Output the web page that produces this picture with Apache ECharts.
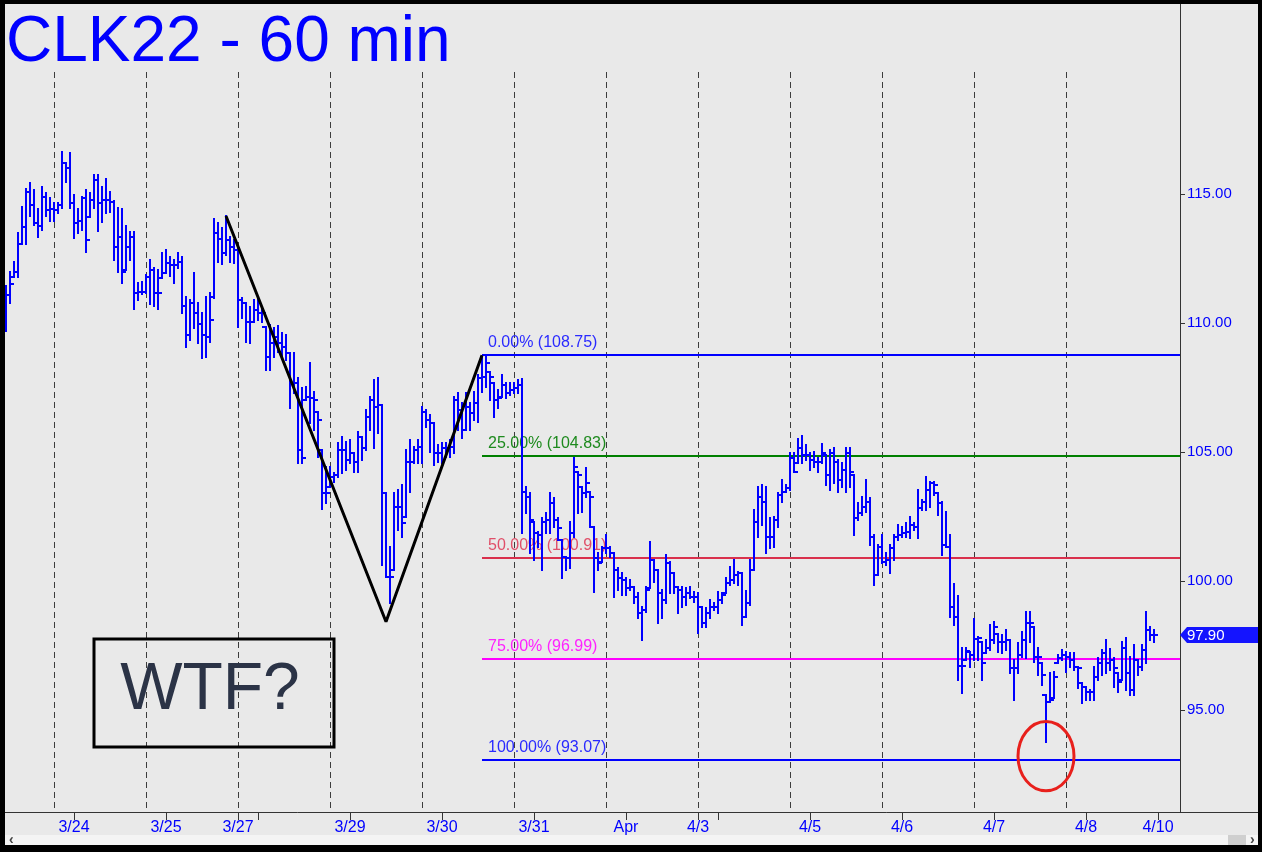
<!DOCTYPE html>
<html>
<head>
<meta charset="utf-8">
<script src="https://cdn.jsdelivr.net/npm/echarts@6/dist/echarts.min.js"></script>
<style>
  html, body { margin: 0; padding: 0; background: #e9e9e9; }
  #wrap { position: relative; width: 1262px; height: 852px; }
  #chart { width: 1262px; height: 852px; }
  #frame { position: absolute; left: 0; top: 0; width: 1262px; height: 852px; box-sizing: border-box;
           border-style: solid; border-color: #000; border-width: 4px 4px 7px 5px; pointer-events: none; }
</style>
</head>
<body>
<div id="wrap"><div id="chart"></div><div id="frame"></div></div>
<script>
// ---- DATA: hourly OHLC bars [open, high, low, close], one array per session ----
const s0 = [
[110.20,111.43,109.70,111.07],[111.07,111.99,110.79,111.50],[111.79,112.37,111.79,111.99],[111.99,113.47,111.79,113.08],
[113.08,114.51,113.06,113.71],[113.71,115.18,113.06,115.09],[115.09,115.41,114.14,114.57],[114.57,115.15,113.80,113.86],
[113.86,114.40,113.34,113.76],[113.76,115.28,113.60,114.89],[114.89,115.02,114.14,114.38],[114.38,114.83,113.96,114.40]];
const s1 = [
[114.40,114.64,113.96,114.38],[114.38,114.64,114.27,114.57],[114.57,116.64,114.44,116.19],[116.19,116.19,115.48,115.99],
[115.99,116.57,114.44,114.64],[114.64,114.96,113.28,113.86],[113.86,114.40,113.47,113.96],[113.96,114.89,113.60,114.83],
[114.83,115.15,112.76,113.21],[114.12,115.02,114.12,114.77],[114.77,115.73,114.44,115.54],[115.54,115.73,113.58,114.64],
[114.64,115.28,113.92,114.77],[114.77,115.57,114.25,114.77],[114.77,115.09,114.31,114.70],[114.70,114.73,112.46,112.96],
[112.96,114.44,111.99,113.34],[113.34,114.40,111.56,111.99],[112.05,113.76,112.05,112.96],[112.96,113.54,112.46,113.34],
[113.34,113.54,110.53,111.15],[111.15,111.56,110.91,111.21],[111.21,111.60,111.12,111.21]];
const s2 = [
[111.21,111.86,111.15,111.79],[111.79,112.46,110.72,112.05],[112.05,112.12,110.66,111.15],[111.15,112.05,110.53,111.15],
[111.73,112.70,111.73,111.95],[111.95,112.83,111.95,112.31],[112.31,112.57,111.82,112.25],[112.25,112.44,111.56,112.25],
[112.25,112.70,112.12,112.37],[112.37,112.57,110.37,110.66],[110.66,111.02,109.08,109.53],[109.53,110.89,109.34,110.76],
[110.76,111.92,109.79,110.37],[110.37,110.76,109.21,109.98],[109.98,110.37,108.63,109.53],[109.53,111.02,108.69,109.47],
[109.47,111.15,109.27,110.11],[111.02,114.05,110.95,113.50],[113.50,113.86,112.37,113.24],[113.24,113.67,112.28,112.70],
[112.70,114.14,112.63,113.21],[113.21,113.34,112.37,112.96],[112.96,113.21,112.31,112.83]];
const s3 = [
[112.83,112.96,109.86,110.91],[110.91,110.95,110.18,110.76],[110.76,110.79,109.27,110.05],[110.05,110.63,109.24,110.05],
[110.05,110.91,110.05,110.50],[110.50,110.89,110.11,110.37],[110.37,110.57,110.05,110.37],[109.86,109.86,108.18,108.70],
[108.70,109.92,108.18,109.21],[109.21,109.79,108.69,109.47],[109.47,109.88,108.89,109.21],[109.21,109.60,108.63,109.08],
[109.08,109.53,108.56,108.82],[108.82,108.82,106.69,107.66],[107.66,108.85,107.27,107.66],[107.66,107.85,104.56,105.08],
[105.08,107.47,104.56,104.75],[107.02,107.53,107.02,107.14],[107.14,108.46,106.11,107.08],[107.08,107.34,105.85,107.02],
[106.56,106.56,104.82,106.24],[105.08,105.08,102.78,103.40],[103.40,104.43,103.01,103.40]];
const s4 = [
[103.66,104.43,103.66,104.04],[104.04,104.17,103.85,104.11],[104.11,105.34,104.04,105.08],[105.08,105.59,104.17,105.08],
[105.08,105.40,104.30,104.69],[104.69,105.46,104.56,104.95],[104.95,104.95,104.24,104.63],[104.63,105.79,104.24,105.59],
[105.59,105.59,104.69,105.14],[105.14,106.63,105.08,106.37],[106.37,107.14,105.85,107.02],[107.02,107.79,105.14,106.76],
[106.76,107.85,105.72,106.82],[106.82,106.82,100.62,103.40],[103.40,103.40,100.17,100.17],[100.17,101.33,99.13,100.17],
[100.43,103.40,100.43,102.88],[102.88,103.53,101.98,102.88],[102.88,103.72,101.72,102.24],[102.49,105.08,102.49,104.63],
[104.63,105.46,103.46,104.63],[104.63,105.21,104.56,105.08],[105.08,105.46,104.56,105.21]];
const s5 = [
[105.21,106.76,104.56,106.56],[106.56,106.63,105.98,106.24],[106.24,106.43,105.01,106.11],[106.11,106.11,104.50,104.95],
[104.95,105.27,104.63,104.95],[104.95,105.34,104.56,105.14],[105.14,105.34,104.82,105.14],[105.14,105.46,104.82,105.21],
[105.21,107.14,104.95,107.02],[107.02,107.27,105.85,106.63],[106.63,106.89,105.53,105.85],[105.85,107.27,105.85,106.76],
[106.76,106.89,105.85,106.50],[106.50,107.34,106.24,106.89],[106.89,107.98,106.17,107.85],[107.85,108.66,107.34,107.92],
[107.92,108.72,107.53,108.44],[108.11,108.11,107.02,107.92],[107.66,107.66,106.37,107.02],[107.02,107.40,106.69,107.10],
[107.14,107.99,107.14,107.60],[107.60,107.66,107.08,107.30],[107.30,107.66,107.21,107.40]];
const s6 = [
[107.40,107.66,107.27,107.50],[107.50,107.79,107.27,107.60],[107.60,107.82,101.85,103.46],[103.46,103.66,102.62,103.27],
[103.27,103.40,101.07,102.36],[102.30,102.30,100.81,101.85],[101.85,101.91,101.33,101.78],[101.78,102.43,100.43,102.30],
[102.30,102.62,101.85,102.36],[102.36,103.40,101.85,103.01],[103.01,103.20,102.11,102.36],[102.36,102.43,101.59,102.04],
[101.59,101.59,100.10,100.94],[100.94,100.94,100.43,100.88],[100.88,102.30,100.49,101.85],[101.85,104.75,101.72,104.43],
[104.24,104.24,102.62,104.11],[103.66,103.66,102.69,103.40],[103.40,104.37,103.27,103.79],[103.46,103.46,102.11,103.27],
[102.11,102.11,99.59,100.88],[100.88,101.07,100.43,100.68],[100.75,101.33,100.75,101.27]];
const s7 = [
[101.27,101.78,101.07,101.27],[101.27,101.33,100.94,101.07],[101.07,101.07,99.39,100.43],[100.43,100.49,99.65,100.10],
[100.10,100.30,99.46,100.04],[100.04,100.10,99.46,99.72],[99.72,100.04,99.65,99.78],[99.78,99.78,99.13,99.39],
[99.39,99.52,98.55,98.75],[98.75,99.00,97.71,98.88],[98.88,99.78,98.81,99.65],[99.72,101.52,99.72,100.81],
[100.81,100.81,99.97,100.43],[100.43,100.43,98.36,99.52],[99.52,99.65,98.55,99.26],[99.26,101.01,99.13,100.68],
[100.68,100.75,99.52,100.30],[100.30,100.30,99.52,99.78],[99.78,99.78,98.75,99.65],[99.65,99.78,99.00,99.39],
[99.39,99.72,99.07,99.52],[99.52,99.78,99.33,99.39],[99.39,99.59,99.20,99.39]];
const s8 = [
[99.39,99.52,97.97,99.00],[99.00,99.00,98.23,98.36],[98.36,98.94,98.23,98.75],[98.75,99.26,98.55,99.00],
[99.00,99.13,98.88,99.00],[99.00,99.59,98.75,99.26],[99.26,99.52,99.13,99.46],[99.52,100.10,99.52,99.91],
[99.91,100.56,99.84,100.04],[100.04,100.81,99.91,100.23],[100.23,100.36,99.84,100.30],[100.30,100.30,98.29,98.62],
[98.62,99.60,98.62,99.13],[99.13,100.81,99.07,100.43],[100.43,102.75,100.43,102.30],[102.30,103.66,101.72,103.27],
[103.27,103.72,102.17,103.07],[103.07,103.66,101.07,101.72],[101.72,102.43,101.27,101.72],[101.72,102.49,101.33,102.37],
[102.37,103.40,102.11,103.33],[103.33,103.91,103.07,103.46],[103.46,103.72,103.46,103.59]];
const s9 = [
[103.59,104.95,103.53,104.75],[104.75,104.95,104.24,104.24],[104.56,105.49,104.56,105.14],[105.14,105.62,104.56,104.88],
[104.88,105.27,104.69,104.88],[104.88,104.95,104.30,104.69],[104.69,105.01,104.43,104.63],[104.63,104.75,104.24,104.63],
[104.63,105.31,104.56,104.95],[104.88,104.88,103.72,104.11],[104.11,105.08,103.53,104.95],[104.95,105.14,103.79,104.63],
[104.63,104.69,103.46,103.91],[103.91,104.56,103.66,104.30],[104.30,105.14,103.46,104.95],[104.95,105.14,103.66,104.24],
[104.11,104.11,101.78,102.43],[102.43,103.01,102.37,102.62],[102.62,103.27,102.56,102.88],[102.88,103.91,102.69,103.07],
[103.07,103.20,101.40,101.72],[101.72,101.78,99.85,100.23],[100.23,101.40,100.23,101.33]];
const s10 = [
[101.33,101.78,100.68,100.75],[100.75,101.07,100.62,100.81],[100.81,101.40,100.30,101.27],[101.27,101.78,100.81,101.72],
[101.72,102.17,101.59,101.78],[101.78,102.11,101.72,101.85],[101.85,102.24,101.72,101.91],[101.91,102.49,101.65,102.17],
[102.17,102.24,101.98,102.11],[102.11,103.53,101.65,102.82],[102.82,103.14,102.75,103.07],[103.07,104.04,102.75,103.53],
[103.53,103.85,102.88,103.79],[103.79,103.85,103.33,103.72],[103.40,103.40,102.56,103.01],[103.01,103.07,101.01,101.40],
[101.40,102.69,101.33,101.33],[101.33,101.78,98.62,99.00],[99.00,99.90,98.30,98.60],[98.60,99.42,96.16,96.70],
[96.70,97.39,95.67,96.70],[96.94,97.39,96.94,97.30],[97.26,97.26,96.68,97.13]];
const s11 = [
[97.13,98.51,96.94,97.74],[97.74,97.84,96.94,97.78],[97.65,97.65,96.16,96.83],[97.20,97.71,97.20,97.39],
[97.39,98.29,97.33,97.71],[97.71,98.42,97.58,98.23],[97.95,97.95,97.26,97.65],[97.65,97.91,97.20,97.65],
[97.65,98.10,97.33,97.71],[97.71,97.71,96.42,96.61],[96.61,96.94,95.39,96.61],[96.61,97.58,96.42,97.13],
[97.13,98.04,97.07,97.71],[97.71,98.81,97.00,98.36],[98.36,98.81,97.65,98.36],[98.23,98.23,96.87,97.07],
[97.07,97.39,96.36,97.07],[96.81,96.81,95.97,96.36],[95.58,95.58,93.77,95.32],[95.32,96.42,95.32,95.39],
[95.45,96.49,95.45,96.29],[96.81,97.13,96.81,97.00],[97.00,97.33,96.94,97.13]];
const s12 = [
[97.13,97.26,96.49,97.07],[97.07,97.20,96.68,96.94],[96.94,97.20,96.55,96.68],[96.68,96.68,95.84,96.61],
[96.03,96.03,95.26,95.90],[95.90,95.90,95.39,95.71],[95.71,95.78,95.39,95.71],[95.71,96.68,95.39,96.29],
[96.29,97.00,96.16,96.81],[96.81,97.33,96.36,97.20],[97.20,97.71,96.42,96.81],[96.81,97.35,96.55,96.94],
[96.94,97.00,95.90,96.61],[96.42,96.42,95.71,96.10],[96.16,97.65,96.16,97.39],[97.39,97.78,95.78,96.42],
[96.42,97.07,95.58,95.78],[95.78,97.52,95.58,96.94],[96.94,96.94,96.36,96.68],[96.68,97.52,96.55,97.33],
[97.33,98.81,96.81,98.10],[98.10,98.23,97.71,97.91],[97.91,98.10,97.65,97.90]];

const slotCount = 294;                       // bar slots on the time axis (incl. empty right margin)
const tickIdx    = [17, 40, 58, 86, 109, 132, 155, 173, 201, 224, 247, 270, 288];
const tickLabels = ['3/24','3/25','3/27','3/29','3/30','3/31','Apr','4/3','4/5','4/6','4/7','4/8','4/10'];
const extraTicks = [63, 178];
const sessionStarts = [12, 35, 58, 81, 104, 127, 150, 173, 196, 219, 242, 265];
const yTicks = [95, 100, 105, 110, 115];

const fibPct = ['0.00%', '25.00%', '50.00%', '75.00%', '100.00%'];
const fibVal = [108.75, 104.83, 100.91, 96.99, 93.07];
const fibStart = 119;
const lastPrice = 97.90;

const zigzag = [[55, 114.15], [95, 98.42], [119, 108.75]];
const wtfBox = [21.5, 97.75, 82, 93.57];     // [idxLeft, priceTop, idxRight, priceBottom]
const wtfTextAt = [51, 95.73];
const circleBox = [253.0, 94.55, 266.9, 91.87];

// ---- build ----
const sessions = [s0,s1,s2,s3,s4,s5,s6,s7,s8,s9,s10,s11,s12];
const bars = [].concat(...sessions).map((b, i) => [i, b[0], b[1], b[2], b[3]]);
const categories = Array.from({length: slotCount}, (_, i) => String(i));
const labelMap = {}; tickIdx.forEach((k, j) => labelMap[k] = tickLabels[j]);
const tickSet = new Set(tickIdx.concat(extraTicks));

const FONT = '"Liberation Sans", Arial, Helvetica, sans-serif';
const BLUE = '#0000ff';
const fibColor = ['#0000ff', '#008000', '#d9304c', '#ff00ff', '#0000ff'];
const fibText  = ['#2a2aff', '#1e8a1e', '#e0506a', '#ff22ff', '#2a2aff'];

const yMin = 95 - (812 - 710) / 25.8;
const yMax = 115 + (194 - 4) / 25.8;
const dashTop = 115 + (194 - 72) / 25.8;

const chart = echarts.init(document.getElementById('chart'), null, {renderer: 'canvas', width: 1262, height: 852});

function renderOHLC(params, api) {
  const i = api.value(0);
  const pO = api.coord([i, api.value(1)]);
  const pH = api.coord([i, api.value(2)]);
  const pL = api.coord([i, api.value(3)]);
  const pC = api.coord([i, api.value(4)]);
  const x = Math.round(pO[0]);
  const st = {fill: BLUE};
  const yh = Math.round(pH[1]), yl = Math.round(pL[1]);
  return {type: 'group', children: [
    {type: 'rect', shape: {x: x - 1, y: yh - 1, width: 2, height: Math.max(3, yl - yh + 2)}, style: st},
    {type: 'rect', shape: {x: x - 4, y: Math.round(pO[1]) - 1, width: 3, height: 2}, style: st},
    {type: 'rect', shape: {x: x + 1, y: Math.round(pC[1]) - 1, width: 3, height: 2}, style: st}
  ]};
}

function renderDash(params, api) {
  const k = api.value(0);
  const a = api.coord([k, dashTop]);
  const b = api.coord([k, yMin]);
  const x = Math.round(a[0]) + 0.5;
  return {type: 'line', shape: {x1: x, y1: Math.round(a[1]), x2: x, y2: Math.round(b[1])},
          style: {stroke: '#3c3c3c', lineWidth: 1, lineDash: [6, 4]}};
}

function renderFib(params, api) {
  const k = api.value(0);
  const p = api.coord([fibStart, fibVal[k]]);
  const cs = params.coordSys;
  const y = Math.round(p[1]);
  return {type: 'group', children: [
    {type: 'line', shape: {x1: Math.round(p[0]), y1: y, x2: cs.x + cs.width, y2: y},
     style: {stroke: fibColor[k], lineWidth: 2}},
    {type: 'text', style: {text: fibPct[k] + ' (' + fibVal[k].toFixed(2) + ')', x: Math.round(p[0]) + 6, y: y - 4,
      align: 'left', verticalAlign: 'bottom', font: '16px ' + FONT, fill: fibText[k]}}
  ]};
}

function renderNotes(params, api) {
  const cs = params.coordSys;
  const b1 = api.coord([wtfBox[0], wtfBox[1]]), b2 = api.coord([wtfBox[2], wtfBox[3]]);
  const t = api.coord(wtfTextAt);
  const c1 = api.coord([circleBox[0], circleBox[1]]), c2 = api.coord([circleBox[2], circleBox[3]]);
  const lp = api.coord([0, lastPrice]);
  const tx = cs.x + cs.width, ty = Math.round(lp[1]);
  return {type: 'group', children: [
    {type: 'rect', shape: {x: b1[0], y: b1[1], width: b2[0] - b1[0], height: b2[1] - b1[1]},
     style: {stroke: '#000', lineWidth: 3, fill: 'none'}},
    {type: 'text', style: {text: 'WTF?', x: t[0], y: t[1], align: 'center', verticalAlign: 'middle',
      font: '66px ' + FONT, fill: '#2b3346'}},
    {type: 'ellipse', shape: {cx: (c1[0] + c2[0]) / 2, cy: (c1[1] + c2[1]) / 2, rx: (c2[0] - c1[0]) / 2, ry: (c2[1] - c1[1]) / 2},
     style: {stroke: '#e8201c', lineWidth: 3, fill: 'none'}},
    {type: 'polygon', shape: {points: [[tx, ty], [tx + 7, ty - 8], [tx + 80, ty - 8], [tx + 80, ty + 8], [tx + 7, ty + 8]]},
     style: {fill: '#1414ff'}},
    {type: 'text', style: {text: lastPrice.toFixed(2), x: tx + 7, y: ty + 1, align: 'left', verticalAlign: 'middle',
      font: '15px ' + FONT, fill: '#ffffff'}}
  ]};
}

chart.setOption({
  animation: false,
  backgroundColor: '#e9e9e9',
  title: {text: 'CLK22 - 60 min', left: 6, top: 11, padding: 0,
          textStyle: {fontSize: 64, fontWeight: 'normal', color: BLUE, fontFamily: FONT}},
  grid: {left: 4, right: 82, top: 4, bottom: 40, containLabel: false},
  xAxis: {
    type: 'category', data: categories, boundaryGap: true,
    axisLine: {show: true, lineStyle: {color: '#333', width: 1}},
    axisTick: {show: true, alignWithLabel: true, length: 8, lineStyle: {color: '#333'},
               interval: (idx) => tickSet.has(idx)},
    axisLabel: {show: true, interval: (idx) => labelMap[idx] !== undefined,
                formatter: (v, idx) => labelMap[idx] || '', color: BLUE, fontSize: 16, fontFamily: FONT, margin: 8},
    splitLine: {show: false}
  },
  yAxis: {
    type: 'value', position: 'right', min: yMin, max: yMax, scale: true,
    axisLine: {show: true, lineStyle: {color: '#333', width: 1}},
    axisTick: {show: true, length: 5, lineStyle: {color: '#333'}, customValues: yTicks},
    axisLabel: {color: BLUE, fontSize: 15, fontFamily: FONT, margin: 7, customValues: yTicks,
                formatter: (v) => v.toFixed(2)},
    splitLine: {show: false}
  },
  graphic: [
    {type: 'line', shape: {x1: 1180, y1: 812.5, x2: 1262, y2: 812.5}, style: {stroke: '#333', lineWidth: 1}},
    {type: 'rect', shape: {x: 5, y: 835, width: 1253, height: 10}, style: {fill: '#f4f4f4'}},
    {type: 'rect', shape: {x: 1228, y: 835, width: 18, height: 10}, style: {fill: '#cfcfcf'}},
    {type: 'text', style: {text: '‹', x: 9, y: 840, verticalAlign: 'middle', font: 'bold 14px ' + FONT, fill: '#444'}},
    {type: 'text', style: {text: '›', x: 1250, y: 840, verticalAlign: 'middle', font: 'bold 14px ' + FONT, fill: '#444'}}
  ],
  series: [
    {type: 'custom', name: 'sessions', z: 1, silent: true, clip: false, renderItem: renderDash,
     data: sessionStarts.map(k => [k]), encode: {x: 0}},
    {type: 'custom', name: 'fib', z: 2, silent: true, clip: false, renderItem: renderFib,
     data: fibVal.map((v, k) => [k]), encode: {}},
    {type: 'custom', name: 'CLK22', z: 3, silent: true, renderItem: renderOHLC, data: bars,
     encode: {x: 0, y: [1, 2, 3, 4]}},
    {type: 'line', name: 'zigzag', z: 4, silent: true, data: zigzag, symbol: 'none',
     lineStyle: {color: '#000', width: 3}},
    {type: 'custom', name: 'notes', z: 5, silent: true, clip: false, renderItem: renderNotes,
     data: [[0]], encode: {}}
  ]
});
</script>
</body>
</html>
